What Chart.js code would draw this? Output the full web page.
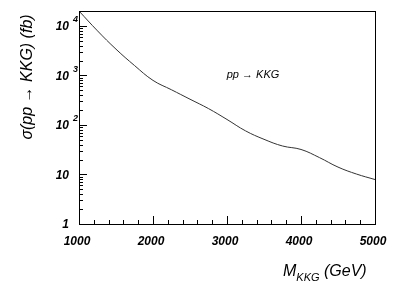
<!DOCTYPE html>
<html><head><meta charset="utf-8">
<script src="https://cdn.jsdelivr.net/npm/chart.js@4.4.1/dist/chart.umd.min.js"></script>
<style>html,body{margin:0;padding:0;background:#fff;}#c{display:block;}</style>
</head><body>
<canvas id="c" width="413" height="292"></canvas>
<script>
const masses = [1000,1250,1500,1750,2000,2250,2500,2750,3000,3250,3500,3750,4000,4250,4500,4750,5000];
const xsec   = [20000,7940,3390,1585,794,513,331,214,129,76,51.3,37.6,32,21.9,14.1,10.2,7.9];
const xTicks = [1000,2000,3000,4000,5000];
const yDecades = [1,10,100,1000,10000];
const yTickBase = ["1","10","10","10","10"];
const yTickExp  = ["","","2","3","4"];
const xTitleMain = "M";
const xTitleSub = "KKG";
const xTitleRest = " (GeV)";
const yTitle = "σ(pp → KKG) (fb)";
const annot = "pp → KKG";

const FONT = '"Liberation Sans", Arial, sans-serif';

const framePlugin = {
  id: 'frame',
  afterDatasetsDraw(chart) {
    const {ctx, chartArea: a, scales: {x, y}} = chart;
    ctx.save();
    ctx.strokeStyle = '#000';
    ctx.lineWidth = 1;
    ctx.strokeRect(Math.round(a.left)+0.5, Math.round(a.top)+0.5, Math.round(a.right-a.left), Math.round(a.bottom-a.top));
    ctx.beginPath();
    for (let v = 1000; v <= 5000; v += 200) {
      const px = Math.round(x.getPixelForValue(v)) + 0.5;
      const len = (v % 1000 === 0) ? 8 : 4;
      ctx.moveTo(px, a.bottom); ctx.lineTo(px, a.bottom - len);
    }
    for (let d = 1; d <= 10000; d *= 10) {
      for (let m = 1; m <= 9; m++) {
        const v = d * m;
        if (v > y.max) break;
        const py = Math.round(y.getPixelForValue(v)) + 0.5;
        const len = (m === 1) ? 8 : 4;
        ctx.moveTo(a.left, py); ctx.lineTo(a.left + len, py);
      }
    }
    ctx.stroke();
    ctx.fillStyle = '#000';
    ctx.font = 'italic bold 12px ' + FONT;
    ctx.textAlign = 'center'; ctx.textBaseline = 'middle';
    xTicks.forEach(v => ctx.fillText(String(v), x.getPixelForValue(v) - 2, 242));
    yDecades.forEach((v, i) => {
      const py = y.getPixelForValue(v);
      ctx.font = 'italic bold 12px ' + FONT;
      ctx.textAlign = 'right'; ctx.textBaseline = 'middle';
      ctx.fillText(yTickBase[i], 69, py + 1);
      if (yTickExp[i]) {
        ctx.font = 'italic bold 9px ' + FONT;
        ctx.textAlign = 'left';
        ctx.fillText(yTickExp[i], 73, py - 6);
      }
    });
    ctx.textBaseline = 'alphabetic';
    ctx.textAlign = 'left';
    ctx.font = 'italic 16px ' + FONT;
    let tx = 283;
    ctx.fillText(xTitleMain, tx, 276);
    tx += ctx.measureText(xTitleMain).width;
    ctx.font = 'italic 11px ' + FONT;
    ctx.fillText(xTitleSub, tx, 281);
    tx += ctx.measureText(xTitleSub).width;
    ctx.font = 'italic 16px ' + FONT;
    ctx.fillText(xTitleRest, tx, 276);
    ctx.save();
    ctx.translate(28, 77);
    ctx.rotate(-Math.PI/2);
    ctx.textAlign = 'center'; ctx.textBaseline = 'middle';
    ctx.font = 'italic 16px ' + FONT;
    ctx.fillText(yTitle, 0, 0);
    ctx.restore();
    ctx.font = 'italic 11px ' + FONT;
    ctx.textAlign = 'center'; ctx.textBaseline = 'middle';
    ctx.fillText(annot, 253, 75);
    ctx.restore();
  }
};

new Chart(document.getElementById('c'), {
  type: 'line',
  data: {
    datasets: [{
      data: masses.map((m, i) => ({x: m, y: xsec[i]})),
      borderColor: '#333',
      borderWidth: 1,
      pointRadius: 0,
      fill: false,
      tension: 0.4
    }]
  },
  options: {
    responsive: false,
    animation: false,
    devicePixelRatio: 1,
    layout: { padding: { left: 79, right: 38, top: 11, bottom: 68 } },
    plugins: { legend: { display: false }, tooltip: { enabled: false } },
    scales: {
      x: { type: 'linear', min: 1000, max: 5000, display: false },
      y: { type: 'logarithmic', min: 1, max: 20000, display: false }
    }
  },
  plugins: [framePlugin]
});
</script>
</body></html>
